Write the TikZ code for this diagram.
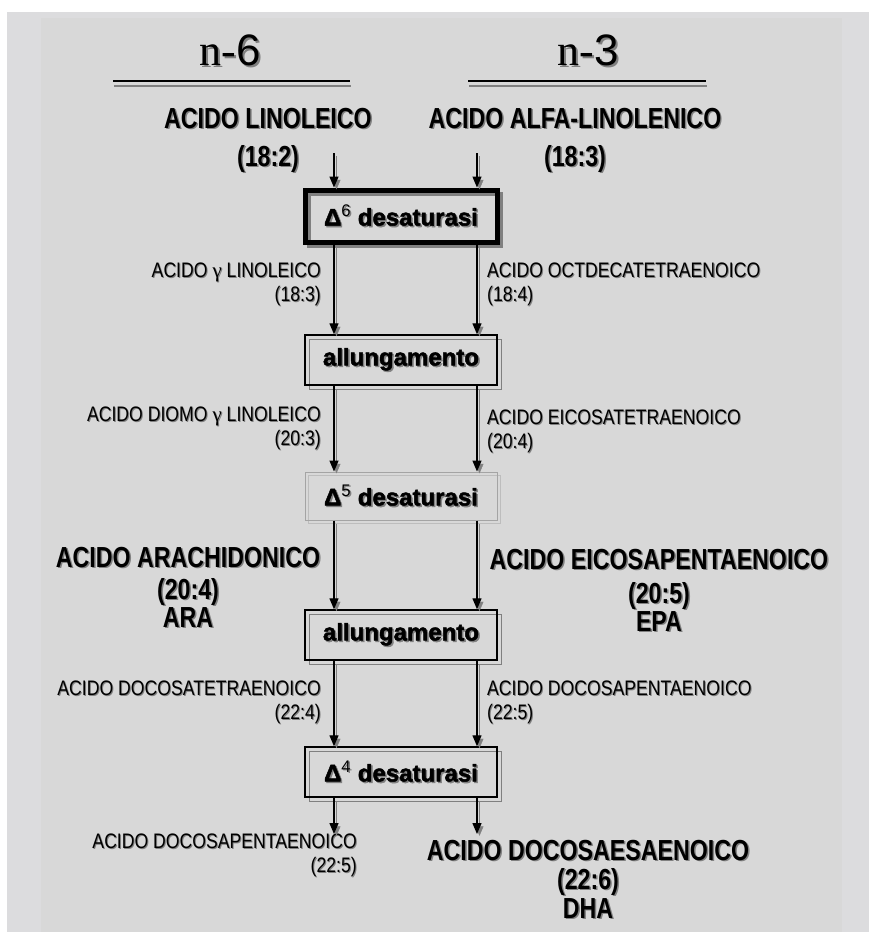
\documentclass[tikz,border=0pt]{standalone}
\usepackage{fontspec}
\setmainfont{Liberation Sans}
\newfontfamily\labfont[FakeStretch=0.84]{Liberation Sans}
\newfontfamily\bigfont[FakeStretch=0.8]{Liberation Sans}
\newfontfamily\heavyfont[BoldFeatures={FakeBold=2}]{Liberation Sans}
\newfontfamily\serfont{Liberation Serif}
\newfontfamily\digfont{Liberation Sans}
\usetikzlibrary{arrows.meta,positioning}
\definecolor{pagegray}{HTML}{DCDCDE}
\definecolor{panelgray}{HTML}{D8D8D8}
\definecolor{shadegray}{HTML}{808080}
\definecolor{paleline}{HTML}{A4A4A4}
\definecolor{paleshade}{HTML}{BDBDBD}
% gray drop shadow behind a line of text
\newcommand{\shd}[2][1.5pt]{\leavevmode\rlap{\kern#1\raisebox{-#1}{\textcolor{shadegray}{#2}}}#2}

\begin{document}
\begin{tikzpicture}[x=1pt,y=-1pt,
    flow/.style={-{Triangle[length=11pt,width=9pt]}, line width=1.3pt,
      preaction={draw=shadegray, transform canvas={shift={(2.5pt,-3pt)}}}},
    boxtext/.style={minimum width=192pt, inner sep=0pt,
      font=\heavyfont\bfseries\fontsize{24}{24}\selectfont},
    enzbox/.style={boxtext, draw, line width=1.4pt, minimum height=50pt,
      preaction={draw=shadegray, line width=1pt, transform canvas={shift={(4pt,-4pt)}}}},
    firstbox/.style={boxtext, draw, line width=5pt, minimum height=52pt,
      preaction={draw=shadegray, line width=4pt, transform canvas={shift={(4pt,-4pt)}}}},
    palebox/.style={boxtext, draw=paleline, line width=1pt, minimum height=48pt,
      preaction={draw=paleshade, line width=1pt, transform canvas={shift={(3pt,-3pt)}}}},
    smalllab/.style={font=\labfont\fontsize{21}{24}\selectfont, inner sep=0pt},
    biglab/.style={font=\bigfont\bfseries\fontsize{29}{30}\selectfont, align=center, inner sep=0pt},
    title/.style={font=\fontsize{44}{44}\selectfont, anchor=base, inner sep=0pt},
    rule/.style={line width=2pt, preaction={draw=shadegray, line width=2pt, transform canvas={shift={(1pt,-5pt)}}}}]
  \useasboundingbox (0,0) rectangle (869,932);
  \fill[white] (0,0) rectangle (869,932);
  \fill[pagegray] (7,12) rectangle (869,932);
  \fill[panelgray] (41,18) rectangle (842,932);

  % series headings
  \node[title] (n6) at (230,65) {\shd[2pt]{{\serfont n-}{\digfont 6}}};
  \node[title] (n3) at (588,65) {\shd[2pt]{{\serfont n-}{\digfont 3}}};
  \draw[rule] (113,81) -- (350,81);
  \draw[rule] (468,81) -- (706,81);

  % starting acids
  \node[biglab] (lino) at (268,141) {\shd{ACIDO LINOLEICO}\\[8pt]\shd{(18:2)}};
  \node[biglab] (alfa) at (575,141) {\shd{ACIDO ALFA-LINOLENICO}\\[8pt]\shd{(18:3)}};

  % enzymes
  \node[firstbox] (d6) at (401,216) {\shd{Δ\textsuperscript{\mdseries 6} desaturasi}};
  \node[enzbox] (al1) at (401,360) {\shd{allungamento}};
  \node[palebox] (d5) at (401,496) {\shd{Δ\textsuperscript{\mdseries 5} desaturasi}};
  \node[enzbox] (al2) at (401,635) {\shd{allungamento}};
  \node[enzbox] (d4) at (401,772) {\shd{Δ\textsuperscript{\mdseries 4} desaturasi}};

  % intermediates
  \node[smalllab, align=right, anchor=east] (gla) at (321,285)
    {\shd[1pt]{ACIDO {\serfont γ} LINOLEICO}\\\shd[1pt]{(18:3)}};
  \node[smalllab, align=left, anchor=west] (sda) at (487,285)
    {\shd[1pt]{ACIDO OCTDECATETRAENOICO}\\\shd[1pt]{(18:4)}};
  \node[smalllab, align=right, anchor=east] (dgla) at (321,429)
    {\shd[1pt]{ACIDO DIOMO {\serfont γ} LINOLEICO}\\\shd[1pt]{(20:3)}};
  \node[smalllab, align=left, anchor=west] (eta) at (487,432)
    {\shd[1pt]{ACIDO EICOSATETRAENOICO}\\\shd[1pt]{(20:4)}};
  \node[biglab] (ara) at (188,588) {\shd{ACIDO ARACHIDONICO}\\[2pt]\shd{(20:4)}\\[-2pt]\shd{ARA}};
  \node[biglab] (epa) at (659,591) {\shd{ACIDO EICOSAPENTAENOICO}\\[4pt]\shd{(20:5)}\\[-2pt]\shd{EPA}};
  \node[smalllab, align=right, anchor=east] (dta) at (321,703)
    {\shd[1pt]{ACIDO DOCOSATETRAENOICO}\\\shd[1pt]{(22:4)}};
  \node[smalllab, align=left, anchor=west] (dpa) at (487,703)
    {\shd[1pt]{ACIDO DOCOSAPENTAENOICO}\\\shd[1pt]{(22:5)}};

  % end products
  \node[smalllab, align=right, anchor=east] (dpa6) at (357,856)
    {\shd[1pt]{ACIDO DOCOSAPENTAENOICO}\\\shd[1pt]{(22:5)}};
  \node[biglab] (dha) at (588,880) {\shd{ACIDO DOCOSAESAENOICO}\\[-1pt]\shd{(22:6)}\\[-1pt]\shd{DHA}};

  % arrows
  \coordinate (lx) at (334,0);
  \coordinate (rx) at (477,0);
  \coordinate (lin) at (334,153);
  \coordinate (rin) at (477,153);
  \coordinate (lout) at (334,834);
  \coordinate (rout) at (477,834);
  \draw[flow] (lin) -- (lin |- d6.north);
  \draw[flow] (rin) -- (rin |- d6.north);
  \foreach \a/\b in {d6/al1, al1/d5, d5/al2, al2/d4} {
    \draw[flow] (\a.south -| lx) -- (\b.north -| lx);
    \draw[flow] (\a.south -| rx) -- (\b.north -| rx);
  }
  \draw[flow] (d4.south -| lout) -- (lout);
  \draw[flow] (d4.south -| rout) -- (rout);
\end{tikzpicture}
\end{document}
